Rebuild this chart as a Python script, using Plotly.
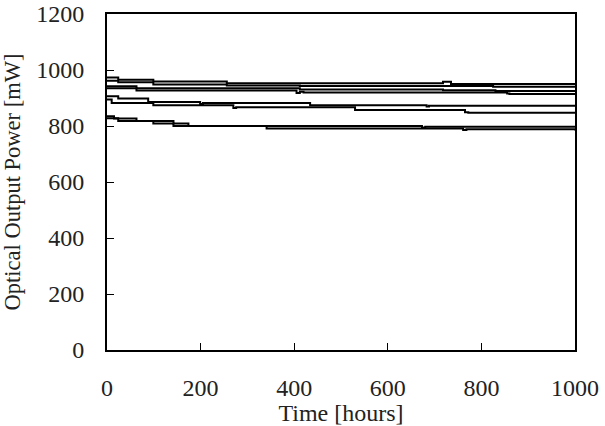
import plotly.graph_objects as go

# Time [hours] and power [mW] for each device (step-wise traces)
t1 = [0, 24, 99, 256, 718, 722, 735, 1000]
p1 = [973, 965, 959, 953, 958, 958, 950, 950]
t2 = [0, 24, 99, 256, 412, 825, 1000]
p2 = [962, 956, 948, 945, 943, 940, 939]
t3 = [0, 63, 412, 718, 830, 1000]
p3 = [942, 935, 930, 928, 925, 925]
t4 = [0, 63, 405, 412, 420, 855, 860, 1000]
p4 = [935, 927, 918, 922, 920, 916, 914, 914]
t5 = [0, 24, 88, 199, 205, 434, 683, 688, 1000]
p5 = [906, 898, 886, 879, 882, 874, 870, 872, 870]
t6 = [0, 10, 99, 270, 276, 530, 765, 772, 1000]
p6 = [895, 882, 874, 864, 867, 857, 849, 847, 847]
t7 = [0, 15, 63, 142, 174, 673, 680, 1000]
p7 = [835, 827, 818, 809, 800, 795, 797, 794]
t8 = [0, 24, 99, 142, 341, 761, 768, 1000]
p8 = [828, 818, 809, 800, 791, 786, 788, 784]

series = [(t1, p1), (t2, p2), (t3, p3), (t4, p4), (t5, p5), (t6, p6), (t7, p7), (t8, p8)]

x_ticks = [0, 200, 400, 600, 800, 1000]
y_ticks = [0, 200, 400, 600, 800, 1000, 1200]

fig = go.Figure()
for t, p in series:
    fig.add_trace(go.Scatter(x=t, y=p, mode="lines", line=dict(color="black", width=2, shape="hv"),
                             showlegend=False, hoverinfo="skip"))

fam = "Liberation Serif, Times New Roman, serif"
tick_font = dict(family=fam, size=24, color="#222")

fig.update_layout(
    width=605, height=426,
    margin=dict(l=107, r=30, t=14, b=76),
    paper_bgcolor="white", plot_bgcolor="white",
    font=tick_font,
    showlegend=False,
)
fig.update_xaxes(
    range=[0, 1000], tickvals=x_ticks, ticks="inside", ticklen=7, tickwidth=1.2, tickcolor="black",
    showline=True, linecolor="black", linewidth=2, mirror=True, showgrid=False, zeroline=False,
    ticklabelstandoff=15, automargin=False, ticklabeloverflow="allow", tickfont=tick_font,
    title=dict(text="Time [hours]", standoff=15, font=dict(family=fam, size=24, color="#222")),
)
fig.update_yaxes(
    range=[0, 1200], tickvals=y_ticks, ticks="inside", ticklen=7, tickwidth=1.2, tickcolor="black",
    showline=True, linecolor="black", linewidth=2, mirror=True, showgrid=False, zeroline=False,
    ticklabelstandoff=16, automargin=False, ticklabeloverflow="allow", tickfont=tick_font,
    title=dict(text="Optical Output Power [mW]", standoff=10, font=dict(family=fam, size=22.5, color="#222")),
)

fig.write_html("out.html")
